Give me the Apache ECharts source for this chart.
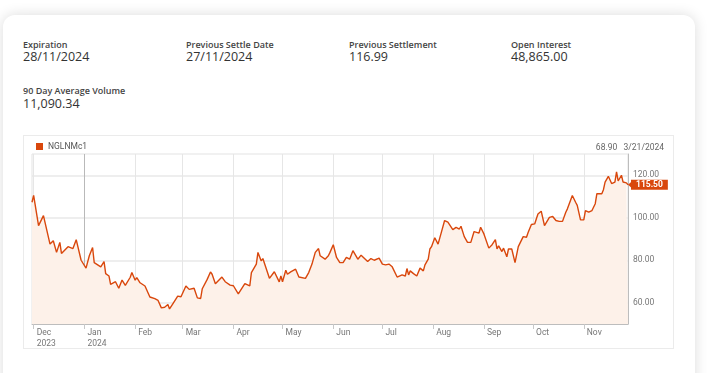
<!DOCTYPE html>
<html><head><meta charset="utf-8">
<script src="https://cdn.jsdelivr.net/npm/echarts@6/dist/echarts.min.js"></script>
<style>
html,body{margin:0;padding:0;width:720px;height:373px;overflow:hidden;background:#fff;}
#card{position:absolute;left:3px;top:15px;width:692px;height:420px;background:#fff;border-radius:12px;box-shadow:0 0 14px rgba(0,0,0,0.14);}
.lbl{position:absolute;font-family:'Open Sans',sans-serif;font-size:9px;line-height:9px;font-weight:600;color:#444;white-space:nowrap;}
.val{position:absolute;font-family:'Open Sans',sans-serif;font-size:12.5px;line-height:12.5px;font-weight:500;color:#333;white-space:nowrap;}
#panel{position:absolute;left:23px;top:135px;width:651px;height:214px;border:1px solid #ebebeb;box-sizing:border-box;}
#chart{position:absolute;left:0;top:0;width:720px;height:373px;}
</style></head>
<body>
<div id="card"></div>
<div class="lbl" style="left:23px;top:40px">Expiration</div>
<div class="val" style="left:23px;top:51px">28/11/2024</div>
<div class="lbl" style="left:186px;top:40px">Previous Settle Date</div>
<div class="val" style="left:186px;top:51px">27/11/2024</div>
<div class="lbl" style="left:349px;top:40px">Previous Settlement</div>
<div class="val" style="left:349px;top:51px">116.99</div>
<div class="lbl" style="left:511px;top:40px">Open Interest</div>
<div class="val" style="left:511px;top:51px">48,865.00</div>
<div class="lbl" style="left:23px;top:86px">90 Day Average Volume</div>
<div class="val" style="left:23px;top:98px">11,090.34</div>
<div id="panel"></div>
<div id="chart"></div>
<script>
const seriesName = 'NGLNMc1';
const lineColor = '#d9470c';
const monthNames = ['Jan','Feb','Mar','Apr','May','Jun','Jul','Aug','Sep','Oct','Nov','Dec'];
const yLabelValues = [60, 80, 100, 120];
const hoverDate = '2024-03-21';

const dates = [
'2023-11-30','2023-12-01','2023-12-04','2023-12-07','2023-12-11','2023-12-13','2023-12-15','2023-12-17','2023-12-18','2023-12-22','2023-12-25','2023-12-27','2023-12-30',
'2024-01-02','2024-01-04','2024-01-06','2024-01-07','2024-01-11','2024-01-13','2024-01-14','2024-01-16','2024-01-17','2024-01-20','2024-01-22','2024-01-24','2024-01-26','2024-01-29','2024-01-30',
'2024-02-01','2024-02-02','2024-02-04','2024-02-07','2024-02-10','2024-02-13','2024-02-15','2024-02-17','2024-02-19','2024-02-21','2024-02-22','2024-02-24','2024-02-27','2024-02-29',
'2024-03-03','2024-03-05','2024-03-08','2024-03-10','2024-03-12','2024-03-13','2024-03-16','2024-03-18','2024-03-19','2024-03-21','2024-03-25','2024-03-27','2024-03-30',
'2024-04-01','2024-04-04','2024-04-05','2024-04-08','2024-04-11','2024-04-12','2024-04-15','2024-04-16','2024-04-18','2024-04-19','2024-04-23','2024-04-26','2024-04-29','2024-04-30',
'2024-05-01','2024-05-03','2024-05-04','2024-05-06','2024-05-09','2024-05-11','2024-05-15','2024-05-17','2024-05-19','2024-05-21','2024-05-23','2024-05-24','2024-05-27','2024-05-29','2024-05-30','2024-05-31',
'2024-06-01','2024-06-03','2024-06-05','2024-06-07','2024-06-09','2024-06-11','2024-06-13','2024-06-14','2024-06-16','2024-06-18','2024-06-22','2024-06-24','2024-06-26','2024-06-29',
'2024-07-01','2024-07-03','2024-07-05','2024-07-07','2024-07-10','2024-07-11','2024-07-13','2024-07-15','2024-07-16','2024-07-17','2024-07-18','2024-07-20','2024-07-21','2024-07-22','2024-07-24','2024-07-26','2024-07-27','2024-07-29','2024-07-30','2024-07-31',
'2024-08-02','2024-08-04','2024-08-06','2024-08-08','2024-08-10','2024-08-13','2024-08-15','2024-08-17','2024-08-18','2024-08-20','2024-08-22','2024-08-24','2024-08-26','2024-08-29','2024-08-30',
'2024-09-01','2024-09-04','2024-09-06','2024-09-08','2024-09-09','2024-09-10','2024-09-12','2024-09-13','2024-09-15','2024-09-16','2024-09-18','2024-09-20','2024-09-22','2024-09-23','2024-09-25','2024-09-27','2024-09-28','2024-09-30',
'2024-10-01','2024-10-02','2024-10-04','2024-10-06','2024-10-08','2024-10-09','2024-10-11','2024-10-12','2024-10-13','2024-10-15','2024-10-17','2024-10-19','2024-10-21','2024-10-22','2024-10-25','2024-10-27','2024-10-28','2024-10-30',
'2024-11-01','2024-11-02','2024-11-04','2024-11-06','2024-11-08','2024-11-09','2024-11-12','2024-11-13','2024-11-14','2024-11-15','2024-11-16','2024-11-18','2024-11-20','2024-11-21','2024-11-22','2024-11-24','2024-11-25','2024-11-27','2024-11-28'
];
const values = [
107.3,110.5,96.3,101.0,87.6,89.2,83.7,88.4,83.2,86.4,85.5,89.7,80.0,
76.3,82.1,86.0,78.9,76.9,79.4,73.7,72.6,68.7,69.9,66.8,70.7,68.2,72.0,74.2,
70.6,71.8,69.4,67.9,62.7,61.9,61.1,57.6,57.9,59.2,57.1,59.5,63.1,62.8,
67.9,66.3,66.8,62.3,62.0,66.6,71.0,74.5,73.4,68.9,72.1,69.9,68.3,
68.0,64.2,63.9,69.0,67.9,74.2,78.2,83.7,79.7,80.8,71.5,74.6,69.8,72.6,
69.9,75.3,73.4,74.5,75.8,72.1,71.5,74.2,78.2,83.7,85.5,82.1,80.5,82.1,83.7,83.2,
87.3,81.3,78.9,78.9,81.3,80.5,84.5,83.7,80.5,82.4,79.4,80.8,80.0,81.0,
78.2,77.8,78.2,76.9,72.1,71.3,73.1,72.6,76.1,73.1,75.0,73.7,73.9,72.6,76.3,75.0,77.8,80.5,85.3,86.4,
90.6,87.6,93.1,98.7,97.9,94.4,95.5,94.7,96.0,91.1,88.4,88.4,93.5,92.8,95.5,
92.4,85.7,87.3,89.7,85.3,86.8,84.1,85.7,81.6,85.3,85.3,78.9,86.4,86.4,91.1,90.8,93.1,96.8,
97.4,97.1,101.8,103.1,96.3,97.1,100.2,99.5,100.6,98.7,98.3,98.3,102.6,104.2,110.5,107.3,105.8,99.0,
99.0,103.4,102.6,103.4,106.6,111.3,111.3,113.2,116.8,116.4,119.5,116.1,116.8,121.6,117.3,120.0,116.8,116.4,115.5
];

// calendar-day categories spanning the data
const days = [];
for (let t = Date.parse(dates[0] + 'T00:00:00Z'); t <= Date.parse(dates[dates.length - 1] + 'T00:00:00Z'); t += 86400000) {
  days.push(new Date(t).toISOString().slice(0, 10));
}
const dayIndex = {};
days.forEach((d, i) => { dayIndex[d] = i; });
const seriesData = dates.map((d, i) => [dayIndex[d], values[i]]);
const lastIdx = values.length - 1;
const lastVal = values[lastIdx];
const hoverVal = values[dates.indexOf(hoverDate)];
const hp = hoverDate.split('-');
const hoverText = hoverVal.toFixed(2) + '   ' + (+hp[1]) + '/' + (+hp[2]) + '/' + hp[0];

const isMonthStart = (i, v) => v.slice(8) === '01';
const vColors = ['#e6e6e6', '#b9b9b9', '#e6e6e6', '#e6e6e6', '#e6e6e6', '#e6e6e6', '#e6e6e6', '#e6e6e6', '#e6e6e6', '#e6e6e6', '#e6e6e6', '#e6e6e6'];

const chart = echarts.init(document.getElementById('chart'), null, {renderer: 'canvas'});
chart.setOption({
  animation: false,
  textStyle: {fontFamily: 'Roboto'},
  grid: {left: 32, right: 92, top: 154, bottom: 49, show: true, borderColor: '#e3e3e3', borderWidth: 1},
  legend: {
    left: 36, top: 142, padding: 0, icon: 'rect', itemWidth: 7, itemHeight: 7,
    textStyle: {fontSize: 8.5, color: '#555', fontFamily: 'Roboto'},
    data: [seriesName]
  },
  graphic: [{
    type: 'text', right: 56, top: 143,
    style: {text: hoverText, fill: '#666', font: '8.5px Roboto'}
  }],
  xAxis: {
    type: 'category', boundaryGap: false, data: days,
    axisLine: {lineStyle: {color: '#bdbdbd'}},
    axisTick: {show: true, interval: isMonthStart, length: 5, lineStyle: {color: '#c8c8c8'}},
    axisLabel: {
      interval: isMonthStart, align: 'left', margin: 3, padding: [0, 0, 0, 3],
      fontSize: 8.5, lineHeight: 11, color: '#777',
      formatter: v => {
        let s = monthNames[+v.slice(5, 7) - 1];
        if (v === '2023-12-01' || v === '2024-01-01') s += '\n' + v.slice(0, 4);
        return s;
      }
    },
    splitLine: {show: true, interval: isMonthStart, lineStyle: {color: vColors, width: 1}}
  },
  yAxis: {
    type: 'value', position: 'right', min: 50, max: 130, interval: 10,
    axisLine: {show: true, lineStyle: {color: '#bdbdbd'}},
    axisTick: {show: false},
    axisLabel: {
      margin: 5, fontSize: 8.5, color: '#777',
      formatter: v => yLabelValues.includes(v) ? v.toFixed(2) : ''
    },
    splitLine: {show: true, lineStyle: {color: ['transparent', '#e8e8e8'], width: 1.5}}
  },
  series: [{
    name: seriesName, type: 'line', data: seriesData,
    showSymbol: false, symbol: 'none',
    itemStyle: {color: lineColor},
    lineStyle: {color: lineColor, width: 1.4},
    areaStyle: {color: '#fdf1e9', opacity: 1},
    markLine: {
      silent: true, symbol: 'none', animation: false,
      lineStyle: {color: 'transparent', width: 0},
      data: [{yAxis: lastVal}],
      label: {
        show: true, position: 'end', distance: 3,
        formatter: lastVal.toFixed(2), color: '#fff', fontWeight: 'bold', fontSize: 8.5,
        backgroundColor: lineColor, padding: [1, 5, 0, 5]
      }
    },
    markPoint: {
      silent: true, animation: false,
      data: [{coord: [seriesData[lastIdx][0], lastVal]}],
      symbol: 'triangle', symbolSize: [7, 4], symbolRotate: 90, symbolOffset: [2, 0],
      itemStyle: {color: lineColor}, label: {show: false}
    }
  }]
});
</script>
</body></html>
